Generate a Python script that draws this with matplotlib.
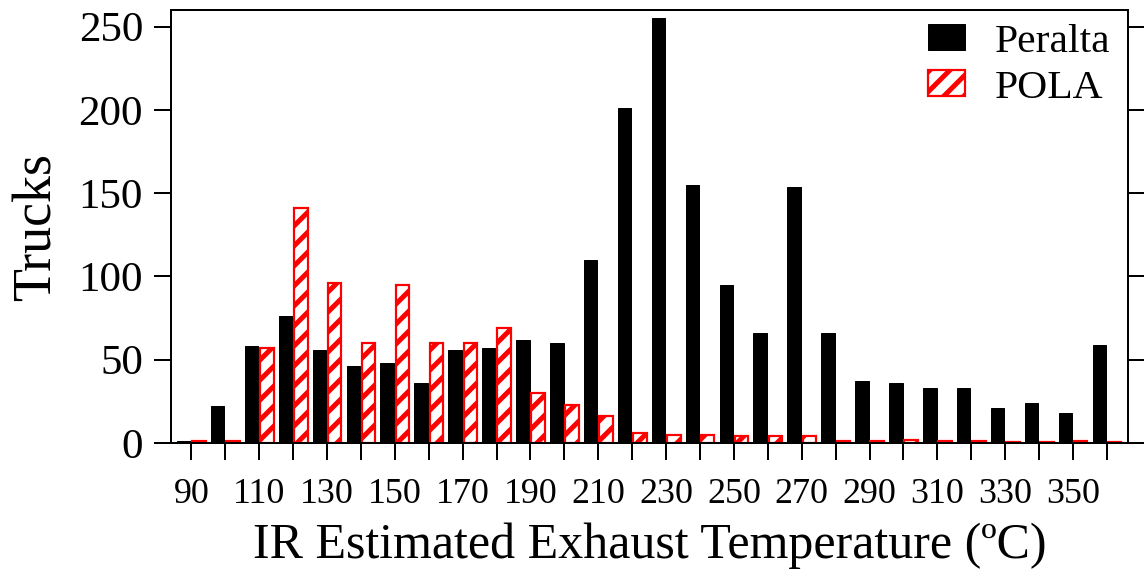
import matplotlib
matplotlib.use("Agg")
import matplotlib.pyplot as plt
import numpy as np

temps = [90, 100, 110, 120, 130, 140, 150, 160, 170, 180, 190, 200, 210, 220,
         230, 240, 250, 260, 270, 280, 290, 300, 310, 320, 330, 340, 350, 360]
peralta = [1, 22, 58, 76, 56, 46, 48, 36, 56, 57, 62, 60, 110, 201,
           255, 155, 95, 66, 154, 66, 37, 36, 33, 33, 21, 24, 18, 59]
pola = [1, 1, 57, 141, 96, 60, 95, 60, 60, 69, 30, 23, 16, 6,
        5, 5, 4, 4, 4, 1, 1, 2, 1, 1, 0.5, 0.5, 1, 0.5]
tick_labels = [str(t) if (t - 90) % 20 == 0 else "" for t in temps]
yticks = [0, 50, 100, 150, 200, 250]

DPI = 120
def px(p):
    # pixels -> points at this dpi
    return p * 72.0 / DPI

plt.rcParams['font.family'] = ['Liberation Serif', 'DejaVu Serif']
plt.rcParams['hatch.linewidth'] = px(5.0)
plt.rcParams['hatch.color'] = 'red'

fig = plt.figure(figsize=(1144 / DPI, 573 / DPI), dpi=DPI)
ax = fig.add_axes([0.1495, 0.2269, 0.8365, 0.7556])

x = np.array(temps, dtype=float)
w = 4.0
ax.bar(x - 2.25, peralta, width=w, color='black', edgecolor='black',
       linewidth=px(1.0), label='Peralta')
ax.bar(x + 2.25, pola, width=w, facecolor='white', edgecolor='red',
       linewidth=px(2.2), hatch='//', label='POLA')

ax.set_xlim(84, 366.2)
ax.set_ylim(0, 260)
ax.set_xticks(temps)
ax.set_xticklabels(tick_labels, fontsize=px(36))
ax.set_yticks(yticks)
ax.set_yticklabels([str(v) for v in yticks], fontsize=px(43))
ax.tick_params(axis='both', direction='out', length=px(17), width=px(2))
ax.tick_params(axis='x', pad=px(18))
ax.tick_params(axis='y', pad=px(11), right=True, labelright=False)
for s in ax.spines.values():
    s.set_linewidth(px(2))

ax.set_xlabel('IR Estimated Exhaust Temperature (ºC)', fontsize=px(50),
              labelpad=px(12))
ax.set_ylabel('Trucks', fontsize=px(54), labelpad=px(16))

leg = ax.legend(loc='upper right', frameon=False, fontsize=px(41.5),
                handlelength=0.89, handleheight=0.58, handletextpad=0.72,
                borderpad=0.2, borderaxespad=0.0, labelspacing=0.22,
                bbox_to_anchor=(0.990, 0.988))

fig.savefig('out.png', dpi=DPI)
